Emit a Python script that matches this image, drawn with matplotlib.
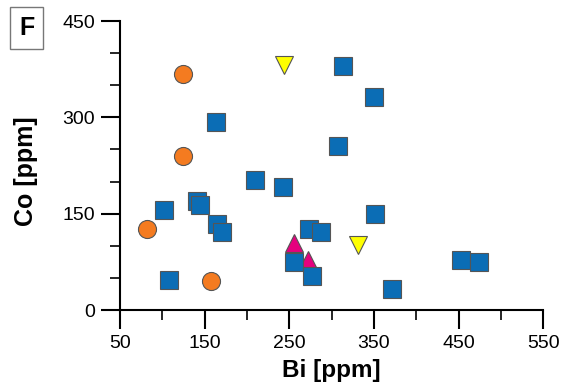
import numpy as np
import matplotlib.pyplot as plt
from matplotlib.ticker import FixedLocator

plt.rcParams['font.family'] = ['Liberation Sans', 'DejaVu Sans']

# Bi [ppm], Co [ppm] per group
sq_bi = [314, 350, 163, 307, 210, 243, 141, 145, 102, 165, 171, 351,
         273, 288, 255, 277, 108, 371, 453, 474]
sq_co = [380, 331, 293, 256, 202, 192, 169, 163, 155, 134, 121, 150,
         126, 121, 74, 53, 47, 32, 78, 74]
ci_bi = [124, 124, 82, 158]
ci_co = [367, 240, 126, 45]
dn_bi = [244, 331]
dn_co = [382, 102]
up_bi = [255, 272]
up_co = [104, 78]

x_major = [50, 150, 250, 350, 450, 550]
x_minor = [100, 200, 300, 400, 500]
y_major = [0, 150, 300, 450]
y_minor = [50, 100, 200, 250, 350, 400]

fig = plt.figure(figsize=(5.68, 3.9), dpi=100)
ax = fig.add_axes([0.2113, 0.2051, 0.745, 0.741])

ax.plot(up_bi, up_co, '^', ms=13, mfc='#e5007e', mec='#555555', mew=0.8,
        ls='none', clip_on=False)
ax.plot(dn_bi, dn_co, 'v', ms=13, mfc='#ffff00', mec='#555555', mew=0.8,
        ls='none', clip_on=False)
ax.plot(ci_bi, ci_co, 'o', ms=13, mfc='#f47b20', mec='#555555', mew=0.8,
        ls='none', clip_on=False)
ax.plot(sq_bi, sq_co, 's', ms=13, mfc='#0b6db5', mec='#555555', mew=0.8,
        ls='none', clip_on=False)

ax.set_xlim(50, 550)
ax.set_ylim(0, 450)
ax.xaxis.set_major_locator(FixedLocator(x_major))
ax.xaxis.set_minor_locator(FixedLocator(x_minor))
ax.yaxis.set_major_locator(FixedLocator(y_major))
ax.yaxis.set_minor_locator(FixedLocator(y_minor))

for s in ['top', 'right']:
    ax.spines[s].set_visible(False)
for s in ['left', 'bottom']:
    ax.spines[s].set_linewidth(1.5)
ax.tick_params(which='major', direction='out', length=14, width=1.5,
               labelsize=14, pad=4)
ax.tick_params(which='minor', direction='out', length=7, width=1.2)

ax.set_xlabel('Bi [ppm]', fontsize=17.5, fontweight='bold', labelpad=5)
ax.set_ylabel('Co [ppm]', fontsize=18, fontweight='bold')
ax.yaxis.set_label_coords(-0.195, 0.48)

fig.text(0.0467, 0.928, 'F', fontsize=18, fontweight='bold', va='center',
         ha='center',
         bbox=dict(boxstyle='square,pad=0.35', fc='white', ec='#777777', lw=1))

fig.savefig('out.png', dpi=100)
